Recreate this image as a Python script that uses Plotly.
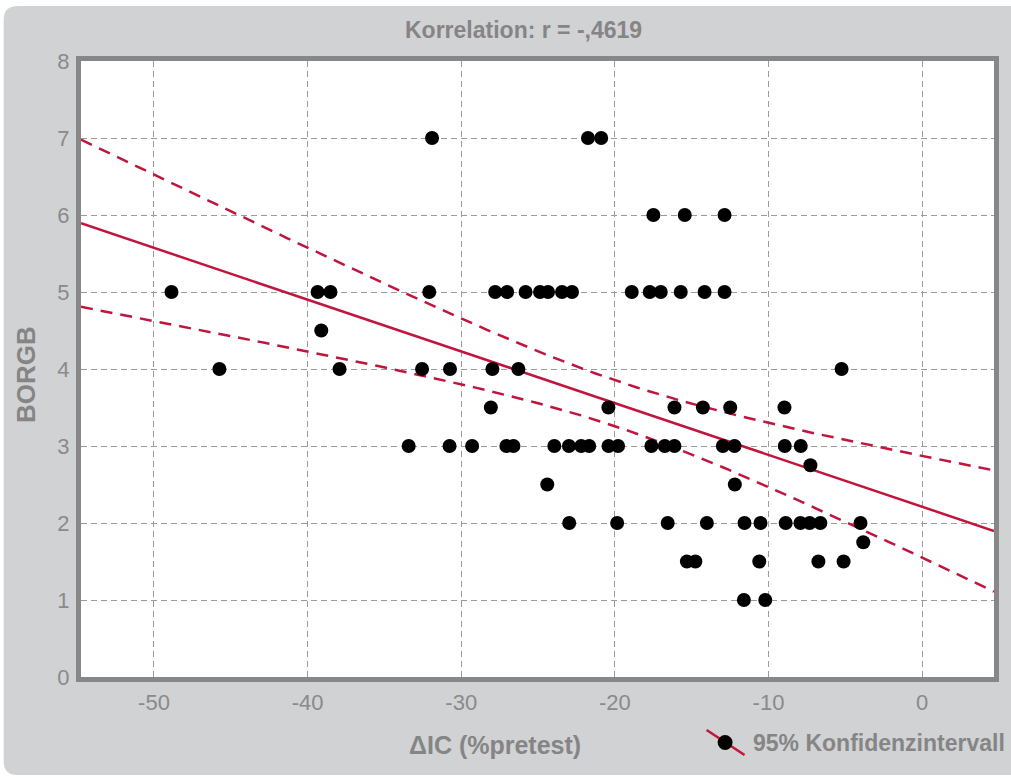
import numpy as np
import plotly.graph_objects as go

# ---- data ----
delta_ic = [
    -31.90, -21.75, -20.89,
    -17.49, -15.45, -12.86,
    -48.86, -39.35, -38.51, -32.08, -27.79, -27.01, -25.81, -24.87, -24.35,
    -23.44, -22.79, -18.90, -17.73, -17.01, -15.71, -14.16, -12.86,
    -39.11,
    -45.74, -37.92, -32.55, -30.73, -27.97, -26.28, -5.24,
    -28.07, -20.42, -16.12, -14.27, -12.49, -8.96,
    -33.42, -30.76, -29.29, -27.06, -26.60, -23.94, -22.99, -22.19, -21.67,
    -20.41, -19.79, -17.62, -16.75, -16.12, -12.97, -12.21, -8.94, -7.90,
    -7.27,
    -24.40, -12.19,
    -22.97, -19.85, -16.56, -14.01, -11.56, -10.52, -8.88, -7.92, -7.32, -6.62, -4.01,
    -3.83,
    -15.31, -14.76, -10.60, -6.75, -5.11,
    -11.60, -10.21,
]
borgb = (
    [7.0] * 3 + [6.0] * 3 + [5.0] * 17 + [4.5] + [4.0] * 7 + [3.5] * 6
    + [3.0] * 18 + [2.75] + [2.5] * 2 + [2.0] * 11 + [1.75] + [1.5] * 5 + [1.0] * 2
)

x_tickvals = [-50, -40, -30, -20, -10, 0]
x_ticktext = ["-50", "-40", "-30", "-20", "-10", "0"]
y_tickvals = [0, 1, 2, 3, 4, 5, 6, 7, 8]
y_ticktext = ["0", "1", "2", "3", "4", "5", "6", "7", "8"]

title_text = "Korrelation: r = -,4619"
x_title = "ΔIC (%pretest)"
y_title = "BORGB"
legend_text = "95% Konfidenzintervall"

X_RANGE = [-54.75, 4.68]
Y_RANGE = [0, 8]

# ---- regression with 95% confidence band of the mean ----
x = np.array(delta_ic)
y = np.array(borgb)
n = len(x)
slope, intercept = np.polyfit(x, y, 1)
resid = y - (intercept + slope * x)
s = np.sqrt(np.sum(resid ** 2) / (n - 2))
xbar = x.mean()
sxx = np.sum((x - xbar) ** 2)
t_crit = 1.992  # t(0.975, df=75)
xs = np.linspace(X_RANGE[0], X_RANGE[1], 200)
ys = intercept + slope * xs
half = t_crit * s * np.sqrt(1.0 / n + (xs - xbar) ** 2 / sxx)

RED = "#c1153d"
GRAY_TXT = "#858585"
PANEL = "#d1d2d4"
FONT = "Liberation Sans, Arial, sans-serif"

fig = go.Figure()
fig.add_trace(go.Scatter(x=xs, y=ys + half, mode="lines",
                         line=dict(color=RED, width=2.5, dash="12px,8px"),
                         hoverinfo="skip"))
fig.add_trace(go.Scatter(x=xs, y=ys - half, mode="lines",
                         line=dict(color=RED, width=2.5, dash="12px,8px"),
                         hoverinfo="skip"))
fig.add_trace(go.Scatter(x=xs, y=ys, mode="lines",
                         line=dict(color=RED, width=2.5), hoverinfo="skip"))
fig.add_trace(go.Scatter(x=delta_ic, y=borgb, mode="markers",
                         marker=dict(color="black", size=14, line=dict(width=0))))

# layout geometry (pixels)
W, H = 1011, 778
ML, MR, MT, MB = 81, 15, 61, 101
PW, PH = W - ML - MR, H - MT - MB


def px(p):
    return (p - ML) / PW


def py(p):
    return (H - MB - p) / PH


# rounded gray panel
x0, y0, x1, y1, r = 3.5, 6, 1030, 775, 14
path = (
    f"M {px(x0)},{py(y0 + r)} Q {px(x0)},{py(y0)} {px(x0 + r)},{py(y0)} "
    f"L {px(x1)},{py(y0)} L {px(x1)},{py(y1)} "
    f"L {px(x0 + r)},{py(y1)} Q {px(x0)},{py(y1)} {px(x0)},{py(y1 - r)} Z"
)
shapes = [
    dict(type="path", xref="paper", yref="paper", path=path,
         fillcolor=PANEL, line=dict(width=0), layer="below"),
    dict(type="rect", xref="paper", yref="paper", x0=0, y0=0, x1=1, y1=1,
         fillcolor="white", line=dict(width=0), layer="below"),
    # legend icon: red regression stroke + black dot
    dict(type="line", xref="paper", yref="paper",
         x0=px(708), y0=py(730), x1=px(746), y1=py(755),
         line=dict(color=RED, width=2.5)),
    dict(type="circle", xref="paper", yref="paper",
         x0=px(719), y0=py(735), x1=px(734), y1=py(750),
         fillcolor="black", line=dict(width=0)),
]

annotations = [
    dict(text=f"<b>{title_text}</b>", xref="paper", yref="paper",
         x=px(524), y=py(30), showarrow=False, xanchor="center", yanchor="middle",
         font=dict(family=FONT, size=23, color=GRAY_TXT)),
    dict(text=f"<b>{x_title}</b>", xref="paper", yref="paper",
         x=px(496), y=py(745), showarrow=False, xanchor="center", yanchor="middle",
         font=dict(family=FONT, size=25, color=GRAY_TXT)),
    dict(text=f"<b>{y_title}</b>", xref="paper", yref="paper",
         x=px(26), y=py(375), showarrow=False, xanchor="center", yanchor="middle",
         textangle=-90, font=dict(family=FONT, size=26, color=GRAY_TXT)),
    dict(text=f"<b>{legend_text}</b>", xref="paper", yref="paper",
         x=px(752), y=py(743), showarrow=False, xanchor="left", yanchor="middle",
         font=dict(family=FONT, size=23, color=GRAY_TXT)),
]

axis_common = dict(
    showline=True, linewidth=5, linecolor="#878787", mirror=True,
    showgrid=True, gridcolor="#9b9b9b", gridwidth=1, griddash="6px,4px",
    zeroline=False, ticks="",
    tickfont=dict(family=FONT, size=22, color="#8a8a8a"),
)

fig.update_layout(
    width=W, height=H,
    margin=dict(l=ML, r=MR, t=MT, b=MB, pad=0),
    paper_bgcolor="white", plot_bgcolor="white",
    showlegend=False,
    xaxis=dict(range=X_RANGE, tickvals=x_tickvals, ticktext=x_ticktext,
               ticklabelstandoff=2, **axis_common),
    yaxis=dict(range=Y_RANGE, tickvals=y_tickvals, ticktext=y_ticktext,
               ticklabelstandoff=2, **axis_common),
    shapes=shapes,
    annotations=annotations,
)

fig.write_html("out.html")
